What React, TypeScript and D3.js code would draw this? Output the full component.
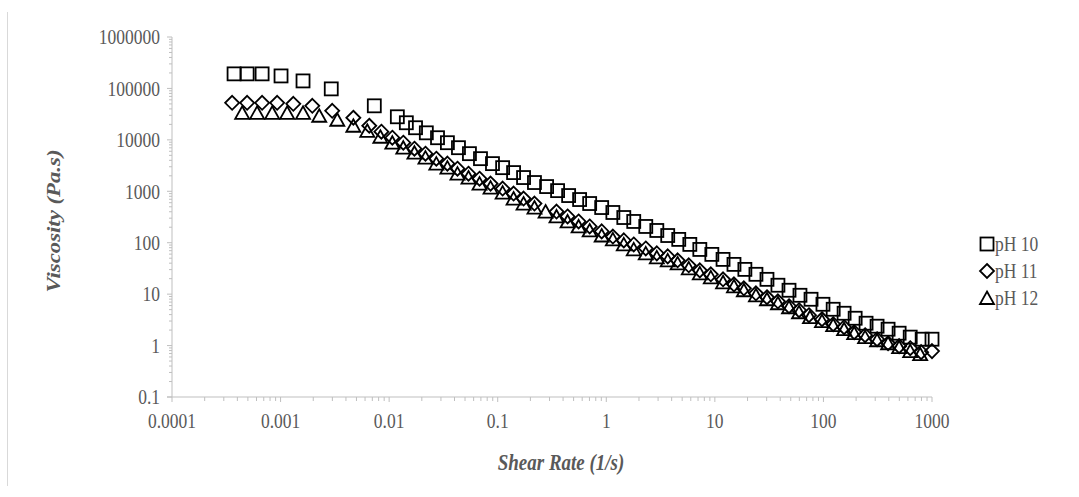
import React from "react";
import * as d3 from "d3";

// shear rate (1/s) and viscosity (Pa.s) per sample
const shearRatePH10 = [0.000373, 0.000492, 0.000676, 0.00101, 0.00161, 0.00293, 0.0073, 0.0119, 0.0144, 0.0175, 0.022, 0.0279, 0.0344, 0.0435, 0.0549, 0.0694, 0.0895, 0.111, 0.14, 0.173, 0.218, 0.282, 0.356, 0.45, 0.568, 0.703, 0.907, 1.15, 1.45, 1.79, 2.31, 2.92, 3.68, 4.65, 5.88, 7.27, 9.38, 11.9, 15.0, 18.9, 23.9, 30.2, 38.1, 48.2, 60.8, 76.9, 99, 123, 155, 196, 247, 312, 394, 498, 630, 812, 1000];
const viscosityPH10 = [192000, 192000, 192000, 175000, 140000, 98000, 45900, 28100, 21500, 17200, 13700, 11000, 8800, 7040, 5390, 4310, 3450, 2880, 2310, 1850, 1480, 1235, 1030, 826, 691, 578, 483, 387, 309, 259, 207, 173, 138, 116, 92.7, 74, 59.3, 47.4, 37.9, 30.3, 24.3, 19.4, 14.9, 11.9, 9.5, 7.95, 6.35, 5.08, 4.25, 3.4, 2.72, 2.38, 2.08, 1.74, 1.46, 1.33, 1.33];

const shearRatePH11 = [0.000358, 0.000492, 0.000676, 0.00093, 0.00131, 0.00196, 0.00299, 0.00468, 0.00656, 0.00848, 0.0107, 0.0135, 0.0171, 0.0216, 0.0272, 0.0344, 0.0426, 0.0538, 0.068, 0.0859, 0.111, 0.14, 0.173, 0.218, 0.348, 0.44, 0.556, 0.703, 0.907, 1.15, 1.45, 1.79, 2.31, 2.92, 3.68, 4.54, 5.75, 7.27, 9.18, 11.9, 15.0, 18.5, 23.9, 30.2, 38.1, 48.2, 59.6, 73.6, 97, 123, 155, 192, 242, 312, 394, 498, 630, 794, 1000];
const viscosityPH11 = [52500, 52500, 52500, 52500, 50200, 45900, 36700, 26900, 18800, 14400, 11000, 8800, 6730, 5390, 4310, 3450, 2750, 2200, 1760, 1410, 1130, 903, 722, 578, 404, 324, 259, 207, 166, 132, 111, 92.7, 77.5, 62, 54.2, 45.4, 36.3, 29, 24.3, 19.4, 15.5, 13, 10.4, 8.7, 7.27, 5.82, 4.87, 3.89, 3.25, 2.6, 2.28, 1.82, 1.59, 1.33, 1.11, 0.975, 0.89, 0.745, 0.78];

const shearRatePH12 = [0.000443, 0.000608, 0.000837, 0.00115, 0.00161, 0.00227, 0.00333, 0.00468, 0.00629, 0.0083, 0.0107, 0.0135, 0.0171, 0.0216, 0.0272, 0.0344, 0.0426, 0.0538, 0.068, 0.0859, 0.111, 0.14, 0.173, 0.218, 0.276, 0.348, 0.44, 0.556, 0.703, 0.907, 1.15, 1.45, 1.79, 2.31, 2.92, 3.68, 4.54, 5.75, 7.27, 9.18, 11.9, 15.0, 18.5, 23.9, 30.2, 38.1, 48.2, 59.6, 75.2, 97, 123, 155, 192, 242, 312, 394, 498, 630, 778];
const viscosityPH12 = [33600, 33600, 33600, 33600, 33600, 29400, 24600, 18800, 15000, 11500, 8800, 7040, 5630, 4510, 3450, 2880, 2200, 1850, 1410, 1180, 944, 722, 578, 483, 404, 324, 259, 207, 173, 138, 116, 92.7, 74.1, 62, 51.9, 45.3, 39.6, 31.7, 25.4, 21.2, 17, 14.2, 11.9, 9.5, 7.95, 6.65, 5.56, 4.45, 3.56, 2.98, 2.49, 2.08, 1.74, 1.46, 1.27, 1.11, 0.93, 0.78, 0.68];

const seriesNames = ["pH 10", "pH 11", "pH 12"];
const xTickLabels = ["0.0001", "0.001", "0.01", "0.1", "1", "10", "100", "1000"];
const yTickLabels = ["0.1", "1", "10", "100", "1000", "10000", "100000", "1000000"];

const W = 1079;
const H = 497;
const PLOT = { left: 172, right: 932, top: 37, bottom: 397 };
const AXIS_COLOR = "#bfbfbf";
const TEXT_COLOR = "#595959";
const FONT = "'Liberation Serif', 'Times New Roman', serif";
// the source picture is a little taller than wide, text included
const STRETCH = 1.2;

const Marker = ({ shape, x, y }: { shape: string; x: number; y: number }) => {
  const common = { fill: "none", stroke: "#000", strokeWidth: 1.8 };
  if (shape === "square") {
    return <rect x={x - 6.5} y={y - 6.5} width={13} height={13} {...common} />;
  }
  if (shape === "diamond") {
    return <path d={`M${x},${y - 7}L${x + 7},${y}L${x},${y + 7}L${x - 7},${y}Z`} {...common} />;
  }
  return <path d={`M${x},${y - 6.5}L${x + 7},${y + 6}L${x - 7},${y + 6}Z`} {...common} />;
};

const App = () => {
  const x = d3.scaleLog().domain([1e-4, 1e3]).range([PLOT.left, PLOT.right]);
  const y = d3.scaleLog().domain([0.1, 1e6]).range([PLOT.bottom, PLOT.top]);

  const series = [
    { name: seriesNames[0], shape: "square", xs: shearRatePH10, ys: viscosityPH10 },
    { name: seriesNames[1], shape: "diamond", xs: shearRatePH11, ys: viscosityPH11 },
    { name: seriesNames[2], shape: "triangle", xs: shearRatePH12, ys: viscosityPH12 },
  ];

  const isMajor = (v: number) => Math.abs(Math.log10(v) - Math.round(Math.log10(v))) < 1e-9;
  const xTicks = x.ticks();
  const yTicks = y.ticks();
  const xMajor = xTicks.filter(isMajor);
  const yMajor = yTicks.filter(isMajor);

  return (
    <svg
      width={W}
      height={H}
      style={{ position: "absolute", left: 0, top: 0, background: "#fff" }}
      fontFamily={FONT}
    >
      {/* chart frame edge */}
      <line x1={7.5} x2={7.5} y1={12} y2={486} stroke="#d9d9d9" strokeWidth={1} />

      {/* y axis */}
      <line x1={PLOT.left} x2={PLOT.left} y1={PLOT.top} y2={PLOT.bottom} stroke={AXIS_COLOR} strokeWidth={1} />
      {yTicks.map((t, i) => (
        <line
          key={"yt" + i}
          x1={PLOT.left - (isMajor(t) ? 5 : 3)}
          x2={PLOT.left}
          y1={y(t)}
          y2={y(t)}
          stroke={AXIS_COLOR}
        />
      ))}
      {yMajor.map((t, i) => (
        <text
          key={"yl" + i}
          transform={`translate(${PLOT.left - 12},${y(t)}) scale(1,${STRETCH})`}
          dy="0.35em"
          textAnchor="end"
          fontSize={17.5}
          fill={TEXT_COLOR}
        >
          {yTickLabels[i]}
        </text>
      ))}

      {/* x axis */}
      <line x1={PLOT.left - 5} x2={PLOT.right} y1={PLOT.bottom} y2={PLOT.bottom} stroke={AXIS_COLOR} strokeWidth={1} />
      {xTicks.map((t, i) => (
        <line
          key={"xt" + i}
          x1={x(t)}
          x2={x(t)}
          y1={PLOT.bottom}
          y2={PLOT.bottom + (isMajor(t) ? 5 : 4)}
          stroke={AXIS_COLOR}
        />
      ))}
      {xMajor.map((t, i) => (
        <text
          key={"xl" + i}
          transform={`translate(${x(t)},${PLOT.bottom + 31}) scale(1,${STRETCH})`}
          textAnchor="middle"
          fontSize={17.5}
          fill={TEXT_COLOR}
        >
          {xTickLabels[i]}
        </text>
      ))}

      {/* axis titles */}
      <text
        transform={`translate(561,${PLOT.bottom + 73}) scale(1,${STRETCH})`}
        textAnchor="middle"
        fontSize={19}
        fontWeight="bold"
        fontStyle="italic"
        fill={TEXT_COLOR}
      >
        Shear Rate (1/s)
      </text>
      <text
        transform={`translate(60,${(PLOT.top + PLOT.bottom) / 2 + 4}) scale(1,${STRETCH}) rotate(-90)`}
        textAnchor="middle"
        fontSize={19}
        fontWeight="bold"
        fontStyle="italic"
        fill={TEXT_COLOR}
      >
        Viscosity (Pa.s)
      </text>

      {/* data */}
      {series.map((s) => (
        <g key={s.name}>
          {s.xs.map((v, i) => (
            <Marker key={i} shape={s.shape} x={x(v)} y={y(s.ys[i])} />
          ))}
        </g>
      ))}

      {/* legend */}
      {series.map((s, i) => (
        <g key={"lg" + s.name} transform={`translate(0,${244 + i * 27})`}>
          <Marker shape={s.shape} x={987} y={0} />
          <text transform={`translate(995,0) scale(1,${STRETCH})`} dy="0.35em" fontSize={17.5} fill={TEXT_COLOR}>
            {s.name}
          </text>
        </g>
      ))}
    </svg>
  );
};

export default App;
